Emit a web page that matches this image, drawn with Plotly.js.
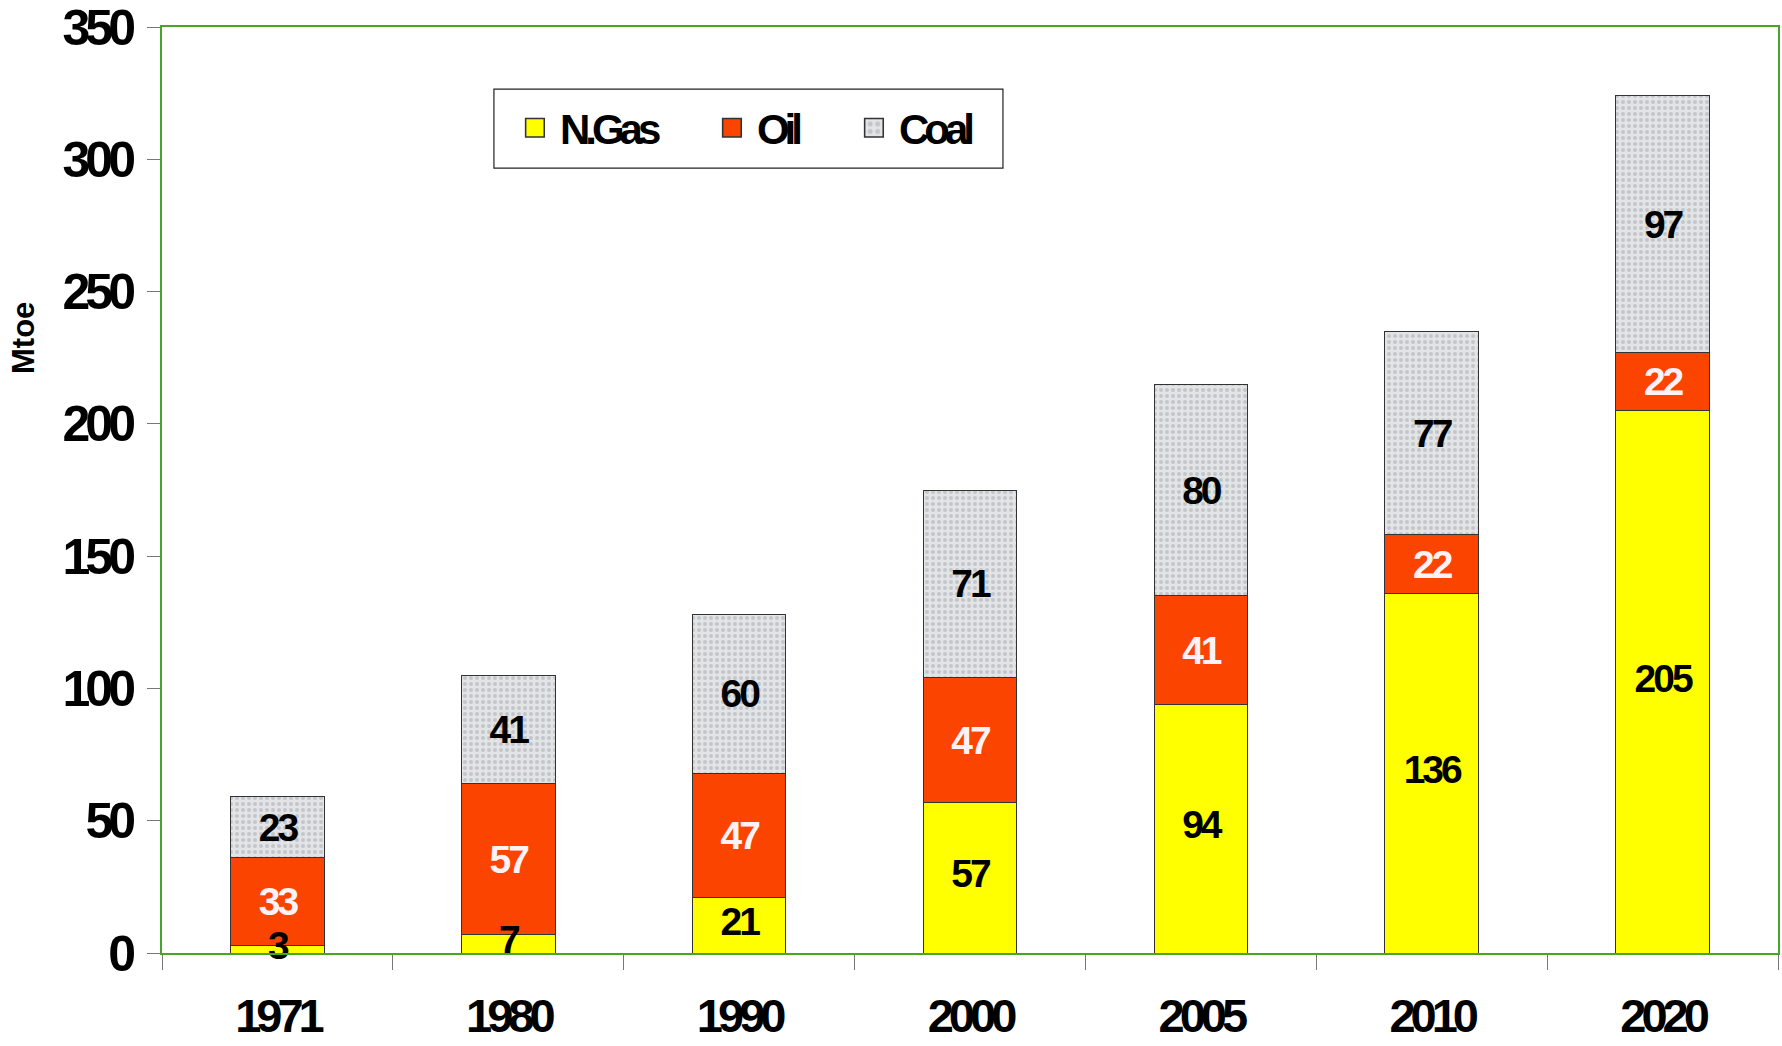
<!DOCTYPE html>
<html>
<head>
<meta charset="utf-8">
<script src="https://cdn.plot.ly/plotly-3.0.1.min.js"></script>
<style>
  html, body { margin: 0; padding: 0; background: #fff; }
  #chart { width: 1782px; height: 1046px; }
  /* the source uses a narrow bold face; tighten the spacing to get close */
  #chart .xtick text { letter-spacing: -5px; }
  #chart .ytick text { letter-spacing: -5px; }
  #chart text.bartext, #chart .textpoint text { letter-spacing: -3px; }
  #chart .legendtext { letter-spacing: -5px; }
  #chart .legendpoints path {
    transform-box: fill-box; transform-origin: center;
    transform: translate(15px, 0) scale(1.55);
  }
</style>
</head>
<body>
<div id="chart"></div>
<script>
// Stacked primary energy supply by fuel (Mtoe)
const years = ['1971', '1980', '1990', '2000', '2005', '2010', '2020'];
const gas = [3, 7, 21, 57, 94, 136, 205];
const oil = [33, 57, 47, 47, 41, 22, 22];
const coal = [23, 41, 60, 71, 80, 77, 97];

const FONT = '"Liberation Sans Narrow", "Arial Narrow", "Liberation Sans", Arial, sans-serif';
const GREEN = '#46a62c';
const EDGE = { color: '#333', width: 1 };

function barTrace(name, values, color, textColor, legendwidth, extra = {}) {
  return {
    type: 'bar', name, x: years, y: values, legendwidth,
    text: values.map(String), textposition: 'inside', insidetextanchor: 'middle',
    textangle: 0, constraintext: 'none', cliponaxis: false,
    textfont: { family: FONT, size: 39, color: textColor, weight: 700 },
    marker: { color, line: EDGE, ...extra },
    hoverinfo: 'skip',
  };
}

const gasBars = barTrace('N.Gas', gas, '#ffff00', '#000', 152);
gasBars.textposition = 'none';  // labels drawn on top below, the 3 and 7 overflow their bars

const traces = [
  gasBars,
  barTrace('Oil', oil, '#fa4400', '#fff2f6', 97),
  barTrace('Coal', coal, '#e2e4e6', '#000', 80, {
    pattern: { shape: '.', fgcolor: '#9da2a7', bgcolor: '#e2e4e6', fgopacity: 0.45, size: 6, solidity: 0.35 },
  }),
  {
    type: 'scatter', mode: 'text', x: years, y: gas.map(v => v / 2),
    text: gas.map(String), textposition: 'middle center', cliponaxis: false,
    textfont: { family: FONT, size: 39, color: '#000', weight: 700 },
    showlegend: false, hoverinfo: 'skip',
  },
];

const layout = {
  width: 1782, height: 1046,
  paper_bgcolor: '#fff', plot_bgcolor: '#fff',
  margin: { l: 162, r: 4, t: 27, b: 93 },
  font: { family: FONT, color: '#000', weight: 700 },
  barmode: 'stack', bargap: 0.595,
  showlegend: true,
  uniformtext: { minsize: 39, mode: 'show' },
  legend: {
    orientation: 'h', traceorder: 'normal',
    x: 0.2215, y: 0.891, xanchor: 'left', yanchor: 'middle',
    bgcolor: 'rgba(0,0,0,0)', borderwidth: 0,
    font: { family: FONT, size: 42, color: '#000', weight: 700 },
    itemwidth: 30,
  },
  shapes: [
    { type: 'rect', xref: 'paper', yref: 'paper', x0: 0.2054, x1: 0.5204, y0: 0.8477, y1: 0.9330,
      line: { color: '#222', width: 1.2 }, fillcolor: '#fff', layer: 'below' },
  ],
  annotations: [
    { text: 'Mtoe', xref: 'paper', yref: 'paper', x: -0.0861, y: 0.664, textangle: -90,
      showarrow: false, xanchor: 'center', yanchor: 'middle',
      font: { family: '"Liberation Sans", Arial, sans-serif', size: 31, color: '#000', weight: 700 } },
  ],
  xaxis: {
    type: 'category', showgrid: false, zeroline: false,
    showline: true, linecolor: GREEN, linewidth: 2, mirror: true,
    ticks: 'outside', tickson: 'boundaries', ticklen: 15, tickcolor: '#777', tickwidth: 1,
    ticklabelstandoff: 21,
    tickfont: { family: FONT, size: 47, color: '#000', weight: 700 },
  },
  yaxis: {
    range: [0, 350], dtick: 50, showgrid: false, zeroline: false,
    showline: true, linecolor: GREEN, linewidth: 2, mirror: true,
    ticks: 'outside', ticklen: 13, tickcolor: '#777', tickwidth: 1,
    ticklabelstandoff: 6, ticklabeloverflow: 'allow',
    tickfont: { family: FONT, size: 50, color: '#000', weight: 700 },
  },
};

Plotly.newPlot('chart', traces, layout, { displayModeBar: false, staticPlot: true });
</script>
</body>
</html>
